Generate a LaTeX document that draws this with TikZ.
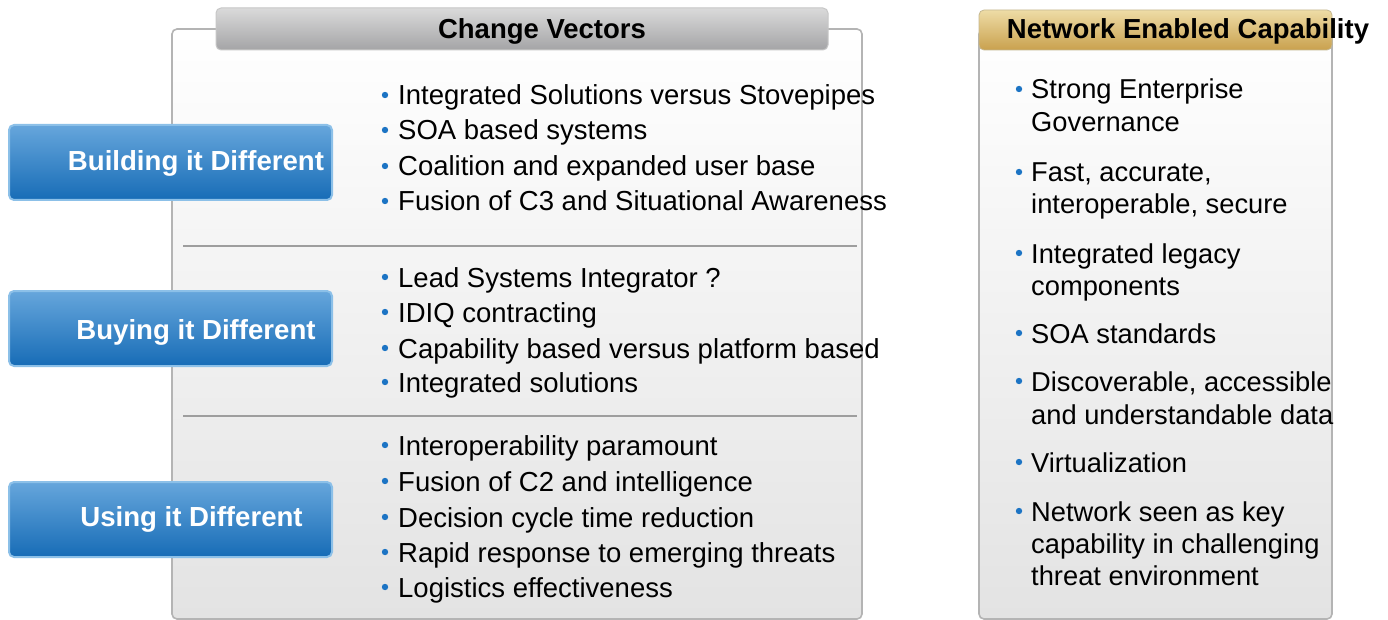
\documentclass[tikz,border=0pt]{standalone}
\usepackage{fontspec}
\setmainfont{Liberation Sans}
\definecolor{bulletblue}{HTML}{1C74C4}
\definecolor{btntop}{HTML}{66A6DC}
\definecolor{btnbot}{HTML}{176CB6}
\definecolor{btnedge}{HTML}{8CC0E8}
\definecolor{panelline}{HTML}{B4B4B4}
\definecolor{hdrtop}{HTML}{DADADA}
\definecolor{hdrbot}{HTML}{A4A4A6}
\definecolor{goldtop}{HTML}{EEDCA6}
\definecolor{goldbot}{HTML}{C9A14E}
\tikzset{
  panel/.style={draw=panelline, line width=1.6pt, rounded corners=5pt,
    top color=white, bottom color=black!11},
  header/.style={rounded corners=5pt, draw=black!22, line width=1pt,
    top color=hdrtop, bottom color=hdrbot},
  goldhdr/.style={rounded corners=5pt, draw=goldtop!80!black!90, line width=0.8pt,
    top color=goldtop, bottom color=goldbot},
  btnbox/.style={rounded corners=5pt, draw=btnedge, line width=2pt,
    top color=btntop, bottom color=btnbot},
  btntext/.style={anchor=base, text=white, font=\fontsize{27.6}{30}\selectfont\bfseries, inner sep=0pt},
  title/.style={anchor=base, font=\fontsize{27.5}{30}\selectfont\bfseries, inner sep=0pt},
  txt/.style={anchor=base west, font=\fontsize{27.5}{32}\selectfont, inner sep=0pt},
  rtxt/.style={anchor=base west, font=\fontsize{27.3}{32}\selectfont, inner sep=0pt},
  sep/.style={draw=black!38, line width=1.4pt},
}
\newcommand{\dotat}[2]{\fill[bulletblue] (#1,#2) circle (3.2);}
\begin{document}
\begin{tikzpicture}[x=1pt,y=-1pt]
\useasboundingbox (0,0) rectangle (1388,620);
\fill[white] (0,0) rectangle (1388,620);

% left panel: change vectors
\draw[panel] (172,29) rectangle (862,619);
\draw[header] (216,8) rectangle (828,50);
\node[title] (cvtitle) at (542,39) {Change Vectors};
\draw[sep] (183,246) -- (857,246);
\draw[sep] (183,416) -- (857,416);

% blue category buttons
\draw[btnbox] (9,125) rectangle (332,200);
\node[btntext] (build) at (196,171) {Building it Different};
\draw[btnbox] (9,291) rectangle (332,366);
\node[btntext] (buy) at (196,339) {Buying it Different};
\draw[btnbox] (9,482) rectangle (332,557);
\node[btntext] (use) at (191.5,526) {Using it Different};

% bullet lists of the left panel
\foreach \y/\t [count=\i] in {
  105/Integrated Solutions versus Stovepipes,
  140/SOA based systems,
  176/Coalition and expanded user base,
  211/Fusion of C3 and Situational Awareness,
  287/Lead Systems Integrator ?,
  322/IDIQ contracting,
  358/Capability based versus platform based,
  392/Integrated solutions,
  455/Interoperability paramount,
  491/Fusion of C2 and intelligence,
  527/Decision cycle time reduction,
  562/Rapid response to emerging threats,
  597/Logistics effectiveness}{
  \dotat{385}{\y-10}
  \node[txt] (cv\i) at (398,\y) {\t};
}

% right panel: network enabled capability
\draw[panel] (979,29) rectangle (1332,619);
\draw[goldhdr] (979,10) rectangle (1332,50);
\node[title] (nectitle) at (1188,39) {Network Enabled Capability};

\foreach \y in {99,182,263,343,391,472,521}{\dotat{1019}{\y-10}}
\foreach \y/\t [count=\i] in {
  99/Strong Enterprise,
  132/Governance,
  182/{Fast, accurate,},
  214/{interoperable, secure},
  263/Integrated legacy,
  295/components,
  343/SOA standards,
  391/{Discoverable, accessible},
  424/and understandable data,
  472/Virtualization,
  521/Network seen as key,
  553/capability in challenging,
  585/threat environment}{
  \node[rtxt] (nec\i) at (1031,\y) {\t};
}
\end{tikzpicture}
\end{document}
